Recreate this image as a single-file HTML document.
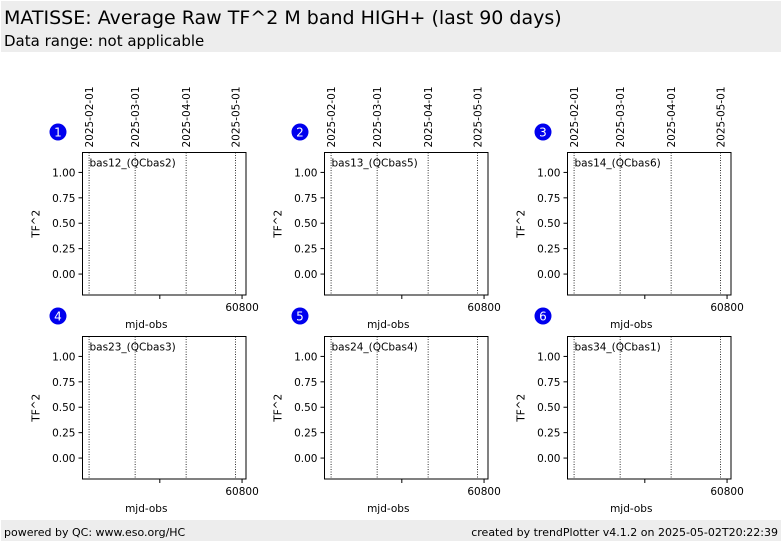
<!DOCTYPE html>
<html><head><meta charset="utf-8"><style>
body{margin:0;background:#fff;font-family:"DejaVu Sans","Liberation Sans",sans-serif}
svg text{font-family:"DejaVu Sans","Liberation Sans",sans-serif}
</style></head><body>
<svg id="c" width="782" height="542" xmlns="http://www.w3.org/2000/svg">
<rect x="1" y="1" width="780" height="51" fill="#ededed"/>
<text x="4" y="24" font-size="19">MATISSE: Average Raw TF^2 M band HIGH+ (last 90 days)</text>
<text x="4" y="46" font-size="15">Data range: not applicable</text>
<rect x="1" y="520" width="780" height="21" fill="#ededed"/>
<text x="4" y="536" font-size="11">powered by QC: www.eso.org/HC</text>
<text x="778" y="536" font-size="11" text-anchor="end">created by trendPlotter v4.1.2 on 2025-05-02T20:22:39</text>
<g id="panels"></g>
</svg>
<script>
const panelLabels=["bas12_(QCbas2)","bas13_(QCbas5)","bas14_(QCbas6)","bas23_(QCbas3)","bas24_(QCbas4)","bas34_(QCbas1)"];
const panelNumbers=["1","2","3","4","5","6"];
const dateLabels=["2025-02-01","2025-03-01","2025-04-01","2025-05-01"];
const dateMjd=[60707,60735,60766,60796];
const yTicks=[0,0.25,0.5,0.75,1.0];
const yTickLabels=["0.00","0.25","0.50","0.75","1.00"];
const xTicks=[60750,60800];
const xTickLabels=["","60800"];
const xDomain=[60703,60802.4];
const yDomain=[-0.206,1.196];
const NS="http://www.w3.org/2000/svg";
const g=document.getElementById('panels');
function mk(t,a,p){const e=document.createElementNS(NS,t);for(const k in a)e.setAttribute(k,a[k]);(p||g).appendChild(e);return e;}
const colX=[82.5,324.5,567.5],rowY=[152.5,336.5],W=163.5,H=142.5;
panelLabels.forEach((lab,i)=>{
  const x0=colX[i%3],y0=rowY[Math.floor(i/3)];
  const sx=v=>x0+(v-xDomain[0])/(xDomain[1]-xDomain[0])*W;
  const sy=v=>y0+H-(v-yDomain[0])/(yDomain[1]-yDomain[0])*H;
  const pg=mk('g',{});
  
  
  const r=mk('rect',{x:x0,y:y0,width:W,height:H,fill:'#fff',stroke:'#000','stroke-width':1},pg);
  
  
  dateMjd.forEach((m,j)=>{
    const x=sx(m);
    const l=mk('line',{x1:x,x2:x,y1:y0,y2:y0+H,stroke:'#000','stroke-width':0.8,'stroke-dasharray':'1,1.5'},pg);
    
    
    if(i<3){
      const t=mk('text',{x:x+4,y:y0-5,'font-size':10.5,transform:`rotate(-90 ${x+4} ${y0-5})`},pg);
      t.textContent=dateLabels[j];
      
      
    }
  });
  yTicks.forEach((v,j)=>{
    const y=sy(v);
    mk('line',{x1:x0-4,x2:x0,y1:y,y2:y,stroke:'#000'},pg);
    const t=mk('text',{x:x0-7,y:y+4,'font-size':10.5,'text-anchor':'end'},pg);
    t.textContent=yTickLabels[j];
    
    
  });
  xTicks.forEach((v,j)=>{
    const x=sx(v);
    mk('line',{x1:x,x2:x,y1:y0+H,y2:y0+H+4,stroke:'#000'},pg);
    const t=mk('text',{x:x,y:y0+H+16,'font-size':10.5,'text-anchor':'middle'},pg);
    t.textContent=xTickLabels[j];
    
    
  });
  const lt=mk('text',{x:x0+7,y:y0+14,'font-size':10.5},pg);
  lt.textContent=lab;
  
  
  const ya=mk('text',{x:x0-43,y:y0+H/2,'font-size':10.5,'text-anchor':'middle',transform:`rotate(-90 ${x0-43} ${y0+H/2})`},pg);
  ya.textContent='TF^2';
  
  
  const xa=mk('text',{x:x0+W/2-18,y:y0+H+33,'font-size':10.5,'text-anchor':'middle'},pg);
  xa.textContent='mjd-obs';
  
  
  const cx=x0-24.5,cy=y0-20.5;
  const c=mk('circle',{cx:cx,cy:cy,r:8.5,fill:'#0000ee'},pg);
  
  
  const ct=mk('text',{x:cx,y:cy+4.5,'font-size':12,'text-anchor':'middle',fill:'#fff'},pg);
  ct.textContent=panelNumbers[i];
  
  
});
</script>
</body></html>
